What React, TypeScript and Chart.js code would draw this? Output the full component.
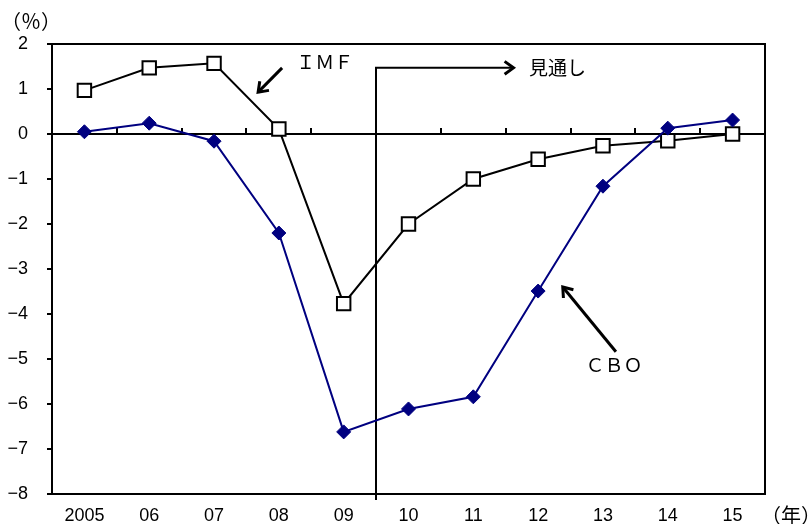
import React, { useEffect, useRef } from "react";
import { Chart, registerables } from "chart.js";
Chart.register(...registerables);

// ---- data ----
const years = ["2005", "06", "07", "08", "09", "10", "11", "12", "13", "14", "15"];
const imfValues = [0.97, 1.47, 1.57, 0.11, -3.77, -2.0, -1.0, -0.56, -0.26, -0.15, 0.0];
const cboValues = [0.05, 0.24, -0.16, -2.2, -6.62, -6.11, -5.84, -3.49, -1.16, 0.13, 0.31];
const yMin = -8;
const yMax = 2;

// annotation anchors in data units (category index, value)
const forecastStartIndex = 4.5;
const forecastArrow = { top: 1.47, endIndex: 6.62 };
const forecastLabel = { text: "見通し", index: 6.86, value: 1.47 };
const imfLabel = { text: "ＩＭＦ", index: 3.27, value: 1.6 };
const imfArrow = { fromIndex: 3.05, fromValue: 1.47, toIndex: 2.68, toValue: 0.93 };
const cboLabel = { text: "ＣＢＯ", index: 7.73, value: -5.13 };
const cboArrow = { fromIndex: 8.2, fromValue: -4.84, toIndex: 7.38, toValue: -3.4 };
const unitY = "（％）";
const unitX = "（年）";

const NUM_FONT = '"Liberation Sans", Arial, sans-serif';
const JP_FONT = '"Noto Sans CJK JP", sans-serif';
const NAVY = "#000080";

function arrowHead(ctx: CanvasRenderingContext2D, x1: number, y1: number, x2: number, y2: number, len: number) {
  const a = Math.atan2(y2 - y1, x2 - x1);
  const s = Math.PI / 5;
  ctx.beginPath();
  ctx.moveTo(x2 - len * Math.cos(a - s), y2 - len * Math.sin(a - s));
  ctx.lineTo(x2, y2);
  ctx.lineTo(x2 - len * Math.cos(a + s), y2 - len * Math.sin(a + s));
  ctx.stroke();
}

const decorPlugin = {
  id: "decor",
  beforeDatasetsDraw(chart: any) {
    const { ctx, chartArea, scales } = chart;
    const xs = scales.x;
    const ys = scales.y;
    ctx.save();
    ctx.strokeStyle = "#000";
    ctx.lineWidth = 2;
    // zero line
    const y0 = ys.getPixelForValue(0);
    ctx.beginPath();
    ctx.moveTo(chartArea.left, y0);
    ctx.lineTo(chartArea.right, y0);
    ctx.stroke();
    // category boundary ticks on zero line
    for (let i = 0; i < years.length - 1; i++) {
      const xp = Math.round(xs.getPixelForValue(i + 0.5));
      ctx.beginPath();
      ctx.moveTo(xp, y0);
      ctx.lineTo(xp, y0 - 6);
      ctx.stroke();
    }
    // forecast line + arrow
    const fx = Math.round(xs.getPixelForValue(forecastStartIndex));
    const fy = ys.getPixelForValue(forecastArrow.top);
    const fEnd = xs.getPixelForValue(forecastArrow.endIndex);
    ctx.beginPath();
    ctx.moveTo(fx, ys.getPixelForValue(yMin) + 6);
    ctx.lineTo(fx, fy);
    ctx.lineTo(fEnd, fy);
    ctx.stroke();
    ctx.lineWidth = 3;
    arrowHead(ctx, fx, fy, fEnd, fy, 11);
    // IMF arrow
    const ia = [xs.getPixelForValue(imfArrow.fromIndex), ys.getPixelForValue(imfArrow.fromValue), xs.getPixelForValue(imfArrow.toIndex), ys.getPixelForValue(imfArrow.toValue)];
    ctx.beginPath();
    ctx.moveTo(ia[0], ia[1]);
    ctx.lineTo(ia[2], ia[3]);
    ctx.stroke();
    arrowHead(ctx, ia[0], ia[1], ia[2], ia[3], 11);
    // CBO arrow
    const ca = [xs.getPixelForValue(cboArrow.fromIndex), ys.getPixelForValue(cboArrow.fromValue), xs.getPixelForValue(cboArrow.toIndex), ys.getPixelForValue(cboArrow.toValue)];
    ctx.beginPath();
    ctx.moveTo(ca[0], ca[1]);
    ctx.lineTo(ca[2], ca[3]);
    ctx.stroke();
    arrowHead(ctx, ca[0], ca[1], ca[2], ca[3], 11);
    // labels
    ctx.fillStyle = "#000";
    ctx.textBaseline = "middle";
    ctx.textAlign = "left";
    ctx.font = `19px ${JP_FONT}`;
    ctx.fillText(forecastLabel.text, xs.getPixelForValue(forecastLabel.index), ys.getPixelForValue(forecastLabel.value));
    ctx.fillText(imfLabel.text, xs.getPixelForValue(imfLabel.index), ys.getPixelForValue(imfLabel.value));
    ctx.fillText(cboLabel.text, xs.getPixelForValue(cboLabel.index), ys.getPixelForValue(cboLabel.value));
    // unit labels
    ctx.font = `20px ${JP_FONT}`;
    ctx.fillText(unitY, 1, 21);
    ctx.fillText(unitX, 761, 515);
    ctx.restore();
  },
  afterDraw(chart: any) {
    const { ctx, chartArea } = chart;
    ctx.save();
    ctx.strokeStyle = "#000";
    ctx.lineWidth = 2;
    ctx.strokeRect(chartArea.left, chartArea.top, chartArea.right - chartArea.left, chartArea.bottom - chartArea.top);
    ctx.restore();
  },
};

export default function App() {
  const ref = useRef<HTMLCanvasElement | null>(null);
  useEffect(() => {
    if (!ref.current) return;
    const chart = new Chart(ref.current, {
      type: "line",
      data: {
        labels: years,
        datasets: [
          {
            label: "CBO",
            data: cboValues,
            borderColor: NAVY,
            backgroundColor: NAVY,
            borderWidth: 2,
            pointStyle: "rectRot",
            pointRadius: 7,
            pointBorderWidth: 1,
            pointBackgroundColor: NAVY,
            pointBorderColor: NAVY,
            tension: 0,
          },
          {
            label: "IMF",
            data: imfValues,
            borderColor: "#000",
            backgroundColor: "#fff",
            borderWidth: 2,
            pointStyle: "rect",
            pointRadius: 9.5,
            pointBorderWidth: 2,
            pointBackgroundColor: "#fff",
            pointBorderColor: "#000",
            tension: 0,
          },
        ],
      },
      options: {
        animation: false,
        responsive: false,
        maintainAspectRatio: false,
        events: [],
        layout: { padding: { top: 44, right: 46, left: 0, bottom: 0 } },
        plugins: { legend: { display: false }, tooltip: { enabled: false } },
        scales: {
          x: {
            type: "category",
            offset: true,
            grid: { display: false, drawTicks: false },
            border: { display: false },
            ticks: {
              color: "#000",
              font: { family: NUM_FONT, size: 18 },
              padding: 11,
              maxRotation: 0,
              autoSkip: false,
            },
            afterFit: (s: any) => {
              s.height = 30;
            },
          },
          y: {
            min: yMin,
            max: yMax,
            grid: { drawOnChartArea: false, drawTicks: true, tickLength: 5, color: "#000", lineWidth: 2 },
            border: { display: false },
            ticks: {
              stepSize: 1,
              color: "#000",
              padding: 19,
              font: { family: NUM_FONT, size: 18 },
              callback: (v: any) => (Number(v) < 0 ? "−" + Math.abs(Number(v)) : String(v)),
            },
            afterFit: (s: any) => {
              s.width = 52;
            },
          },
        },
      },
      plugins: [decorPlugin],
    });
    return () => chart.destroy();
  }, []);
  return (
    <div style={{ position: "fixed", left: 0, top: 0, width: 811, height: 524, background: "#fff" }}>
      <canvas ref={ref} width={811} height={524} style={{ width: 811, height: 524, display: "block" }} />
    </div>
  );
}
